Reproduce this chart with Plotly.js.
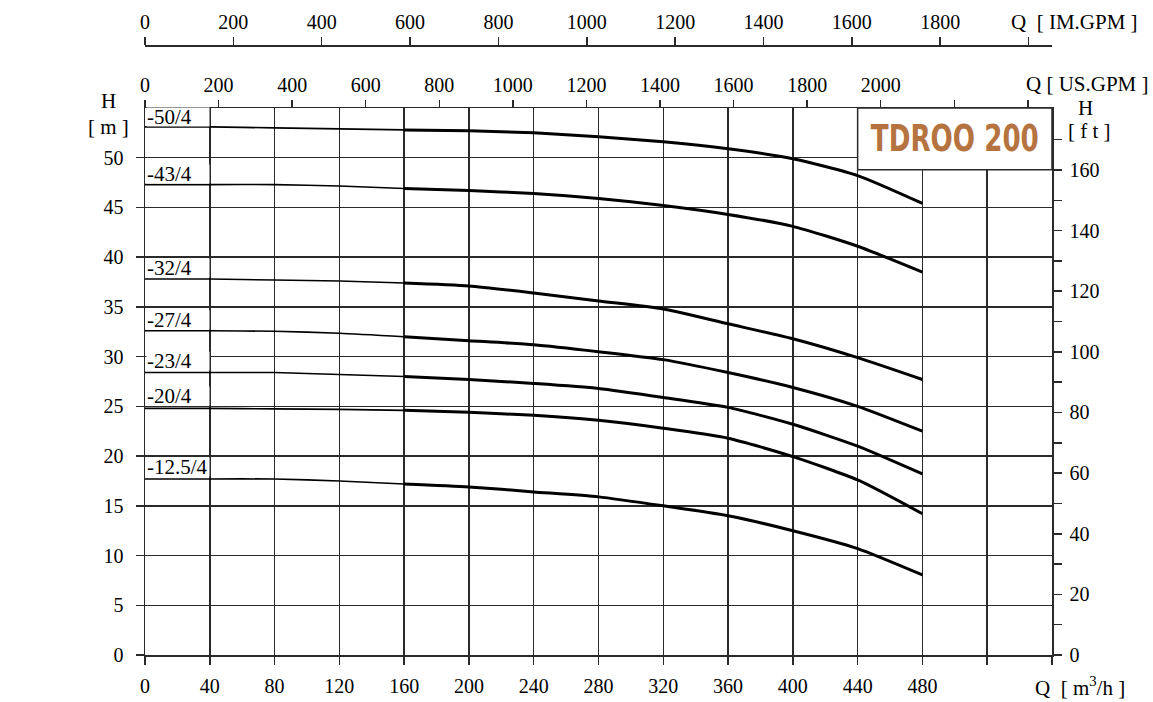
<!DOCTYPE html>
<html>
<head>
<meta charset="utf-8">
<script src="https://cdn.plot.ly/plotly-3.0.1.min.js"></script>
<style>html,body{margin:0;padding:0;background:#fff;}#chart{width:1153px;height:702px;}</style>
</head>
<body>
<div id="chart"></div>
<script>
// Flow (m3/h)
const flowQ = [0, 40, 80, 120, 160, 200, 240, 280, 320, 360, 400, 440, 480];
// Head (m) for each model
const models = ["-50/4", "-43/4", "-32/4", "-27/4", "-23/4", "-20/4", "-12.5/4"];
const head_50 = [53.1, 53.1, 53.0, 52.9, 52.8, 52.7, 52.5, 52.1, 51.6, 50.9, 49.9, 48.2, 45.4];
const head_43 = [47.3, 47.3, 47.3, 47.15, 46.9, 46.7, 46.4, 45.9, 45.2, 44.3, 43.1, 41.1, 38.5];
const head_32 = [37.8, 37.8, 37.7, 37.6, 37.4, 37.1, 36.4, 35.6, 34.8, 33.3, 31.8, 29.9, 27.7];
const head_27 = [32.6, 32.6, 32.55, 32.35, 32.0, 31.6, 31.2, 30.5, 29.7, 28.4, 26.9, 25.0, 22.5];
const head_23 = [28.4, 28.4, 28.4, 28.2, 28.0, 27.7, 27.3, 26.8, 25.9, 24.9, 23.2, 21.0, 18.2];
const head_20 = [24.8, 24.8, 24.75, 24.7, 24.6, 24.4, 24.1, 23.6, 22.8, 21.8, 19.95, 17.6, 14.2];
const head_12 = [17.7, 17.7, 17.7, 17.5, 17.2, 16.9, 16.4, 15.9, 15.0, 14.0, 12.5, 10.7, 8.05];
const heads = [head_50, head_43, head_32, head_27, head_23, head_20, head_12];
// Label heights (m) for curve names
const labelH = [54.05, 48.4, 38.9, 33.7, 29.6, 26.0, 18.9];

// Axis tick values
const qTicks = [0, 40, 80, 120, 160, 200, 240, 280, 320, 360, 400, 440, 480, 520, 560];
const qLabels = ["0", "40", "80", "120", "160", "200", "240", "280", "320", "360", "400", "440", "480", "", ""];
const usTicks = [0, 200, 400, 600, 800, 1000, 1200, 1400, 1600, 1800, 2000, 2200, 2400];
const usLabels = ["0", "200", "400", "600", "800", "1000", "1200", "1400", "1600", "1800", "2000", "", ""];
const imTicks = [0, 200, 400, 600, 800, 1000, 1200, 1400, 1600, 1800, 2000];
const imLabels = ["0", "200", "400", "600", "800", "1000", "1200", "1400", "1600", "1800", ""];
const hTicks = [0, 5, 10, 15, 20, 25, 30, 35, 40, 45, 50];
const ftTicks = [0, 10, 20, 30, 40, 50, 60, 70, 80, 90, 100, 110, 120, 130, 140, 150, 160, 170];
const ftLabels = ["0", "", "20", "", "40", "", "60", "", "80", "", "100", "", "120", "", "140", "", "160", ""];

const Q_MAX = 560, H_MAX = 55;
const US_PER_M3H = 4.402868, IM_PER_M3H = 3.666154, FT_PER_M = 3.28084;

const serif = "Liberation Serif, Times New Roman, serif";
const tickFont = {family: serif, size: 20, color: "#000"};
const splitIdx = 4;

const traces = [];
heads.forEach((h, i) => {
  traces.push({x: flowQ.slice(0, splitIdx + 1), y: h.slice(0, splitIdx + 1), type: "scatter", mode: "lines",
    line: {color: "#000", width: 1.6, shape: "spline", smoothing: 0.6}, showlegend: false, hoverinfo: "skip"});
  traces.push({x: flowQ.slice(splitIdx), y: h.slice(splitIdx), type: "scatter", mode: "lines", name: models[i],
    line: {color: "#000", width: 3, shape: "spline", smoothing: 0.6}, showlegend: false});
});

const annotations = models.map((m, i) => ({
  x: 0, y: labelH[i], xref: "x", yref: "y", text: m, showarrow: false,
  xanchor: "left", yanchor: "middle", xshift: 1, width: 62, height: 18, align: "left",
  bgcolor: "#fff", borderpad: 0, font: {family: serif, size: 21, color: "#000"}
}));

const plotL = 145, plotR = 1052, plotT = 45, plotB = 655;
const px = p => (p - plotL) / (plotR - plotL);
const py = p => (plotB - p) / (plotB - plotT);
const titleFont = {family: serif, size: 21, color: "#000"};
[
  ["H", 108, 101], ["[ m ]", 108, 127],
  ["H", 1085, 108], ["[ f t ]", 1089, 131],
  ["Q [ US.GPM ]", 1087, 84], ["Q  [ IM.GPM ]", 1074, 22],
  ["Q  [ m<sup>3</sup>/h ]", 1080, 686]
].forEach(([t, x, y]) => annotations.push({
  x: px(x), y: py(y), xref: "paper", yref: "paper", text: t, showarrow: false,
  xanchor: "center", yanchor: "middle", font: titleFont
}));

annotations.push({
  x: 500, y: 51.9, xref: "x", yref: "y", text: "<b>TDROO 200</b>", showarrow: false,
  xanchor: "center", yanchor: "middle",
  font: {family: "DejaVu Sans Condensed, DejaVu Sans, sans-serif", size: 37, color: "#b5733f"}
});

const yDomTop = (plotB - 108) / (plotB - plotT);

const gridColor = "#2a2a2a";
const layout = {
  width: 1153, height: 702,
  margin: {l: plotL, r: 1153 - plotR, t: plotT, b: 702 - plotB, pad: 0},
  paper_bgcolor: "#fff", plot_bgcolor: "#fff",
  showlegend: false,
  xaxis: {
    range: [0, Q_MAX], tickvals: qTicks, ticktext: qLabels, tickfont: tickFont,
    showgrid: true, gridcolor: gridColor, gridwidth: 1.5, zeroline: false,
    showline: true, linecolor: gridColor, linewidth: 1.5,
    ticks: "outside", ticklen: 8, tickcolor: gridColor, tickwidth: 1.5,
    ticklabelstandoff: 4, anchor: "y", fixedrange: true
  },
  xaxis2: {
    overlaying: "x", side: "top", anchor: "y",
    range: [0, Q_MAX * US_PER_M3H], tickvals: usTicks, ticktext: usLabels, tickfont: tickFont,
    showgrid: false, zeroline: false, showline: true, linecolor: gridColor, linewidth: 1.5,
    ticks: "outside", ticklen: 7, tickcolor: gridColor, tickwidth: 1.5, fixedrange: true
  },
  xaxis3: {
    overlaying: "x", side: "top", anchor: "free", position: 1,
    range: [0, Q_MAX * IM_PER_M3H], tickvals: imTicks, ticktext: imLabels, tickfont: tickFont,
    showgrid: false, zeroline: false, showline: true, linecolor: gridColor, linewidth: 1.5,
    ticks: "outside", ticklen: 8, tickcolor: gridColor, tickwidth: 1.5, fixedrange: true
  },
  yaxis: {
    domain: [0, yDomTop], range: [0, H_MAX], tickvals: hTicks, tickfont: tickFont,
    showgrid: true, gridcolor: gridColor, gridwidth: 1.5, zeroline: false,
    showline: true, linecolor: gridColor, linewidth: 1.5,
    ticks: "outside", ticklen: 8, tickcolor: gridColor, tickwidth: 1.5,
    ticklabelstandoff: 8, fixedrange: true
  },
  yaxis2: {
    overlaying: "y", side: "right", anchor: "x",
    range: [0, H_MAX * FT_PER_M], tickvals: ftTicks, ticktext: ftLabels, tickfont: tickFont,
    showgrid: false, zeroline: false, showline: true, linecolor: gridColor, linewidth: 1.5,
    ticks: "outside", ticklen: 8, tickcolor: gridColor, tickwidth: 1.5,
    ticklabelstandoff: 4, fixedrange: true
  },
  shapes: [{
    type: "rect", xref: "x", yref: "y", x0: 440, x1: Q_MAX, y0: 48.8, y1: H_MAX,
    fillcolor: "#fff", line: {color: gridColor, width: 1.5}, layer: "above"
  }],
  annotations: annotations
};

traces.push({x: [], y: [], xaxis: "x2", yaxis: "y", type: "scatter", mode: "lines", showlegend: false, hoverinfo: "skip"});
traces.push({x: [], y: [], xaxis: "x", yaxis: "y2", type: "scatter", mode: "lines", showlegend: false, hoverinfo: "skip"});
traces.push({x: [], y: [], xaxis: "x3", yaxis: "y", type: "scatter", mode: "lines", showlegend: false, hoverinfo: "skip"});

Plotly.newPlot("chart", traces, layout, {displayModeBar: false, staticPlot: true}).then(gd => {
  // condense the brand label to match the narrow typeface of the original
  gd.querySelectorAll(".annotation-text").forEach(t => {
    if (t.textContent.indexOf("TDROO") >= 0) {
      t.style.fontStretch = "condensed";
      const w = t.getComputedTextLength();
      if (w > 172) {
        t.setAttribute("textLength", "168");
        t.setAttribute("lengthAdjust", "spacingAndGlyphs");
      }
    }
  });
});
</script>
</body>
</html>
